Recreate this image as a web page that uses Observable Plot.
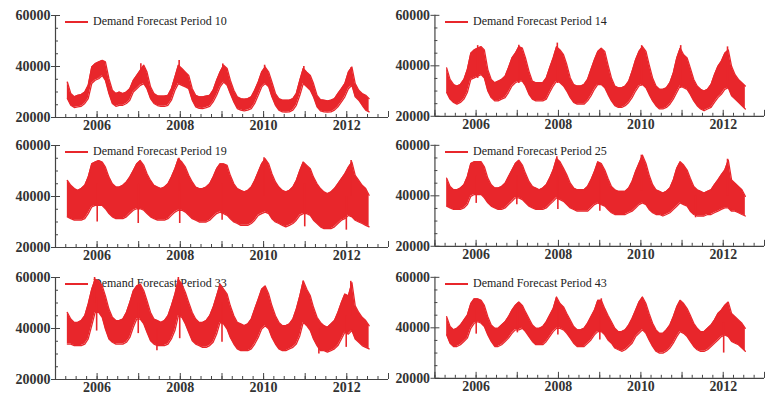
<!DOCTYPE html>
<html><head><meta charset="utf-8">
<script src="https://cdn.jsdelivr.net/npm/d3@7"></script>
<script src="https://cdn.jsdelivr.net/npm/@observablehq/plot@0.6"></script>
<style>
body{margin:0;background:#fff;}
#chart{position:relative;width:766px;height:401px;overflow:hidden;background:#fff;}
.panel{position:absolute;}
.panel svg{position:relative;z-index:1;}
.legend{position:absolute;z-index:0;left:65px;top:14px;line-height:16px;display:flex;align-items:center;font:12px "Liberation Serif",serif;color:#222;white-space:nowrap;}
.legend .sw{display:inline-block;width:23px;height:2px;background:#e8262b;margin-right:5px;}
</style></head><body><div id="chart"></div>
<script>
// Monthly categories: April 2005 .. July 2012 (mid-month)
const months = d3.utcMonth.range(new Date(Date.UTC(2005,3,1)), new Date(Date.UTC(2012,7,1))).map(d => d3.utcDay.offset(d, 14));
const xDomain = [new Date(Date.UTC(2005,0,1)), new Date(Date.UTC(2013,0,1))];
const yDomain = [20000, 60000];
const yMajor = [20000, 40000, 60000];
const yMinor = [25000, 30000, 35000, 45000, 50000, 55000];
const xLabelYears = [2006, 2008, 2010, 2012];
const titles = ["Demand Forecast Period 10","Demand Forecast Period 14","Demand Forecast Period 19","Demand Forecast Period 25","Demand Forecast Period 33","Demand Forecast Period 43"];

// Monthly high / low envelopes
const p10High = [33900,29400,28100,28700,29000,30000,32600,39800,41100,
 41800,42400,41800,35200,30700,29400,30000,29400,30000,31300,34600,36500,
 38500,40500,37800,32000,29400,28500,28400,28400,28700,31300,35900,40500,
 39200,37800,36500,31300,28700,28100,28100,28400,28700,30700,34600,37800,
 40500,39200,34600,30700,28100,27400,27200,27400,28100,30700,33900,37800,
 39800,37800,33900,29400,27400,26800,26800,26800,27400,29400,34600,39200,
 37800,36500,33300,28700,27000,26800,26500,26800,27400,29400,31300,33300,
 37800,39800,33300,30700,29400,28700,27400];
const p10Low = [27500,24800,23900,24200,24400,25500,27400,33300,34600,
 35200,36500,34600,29400,25500,24400,24800,24800,25500,26800,30000,31300,
 32600,33300,31300,27400,25500,24700,24400,24400,24800,26800,30700,33300,
 32600,32000,31300,26800,24200,23600,23500,23900,24400,26100,28700,32000,
 33900,32600,29400,26100,23500,22900,22600,22900,23500,25500,28700,32000,
 33300,32000,28100,24800,22900,22200,22100,22200,22900,24800,28700,33300,
 32000,30700,28100,24200,22600,22200,22100,22200,22900,24200,26100,28100,
 31300,32600,28100,26800,24800,22900,22200];
const p10Spikes = [["2007-01-20",33000,41100],["2007-12-22",33500,42400],["2009-01-08",34000,41000],["2010-01-10",33500,40500],["2010-12-20",33000,40000],["2012-02-08",32000,39500]];

const p14High = [39200,34600,32600,32000,32600,34600,38500,45000,46300,
 47000,47600,46300,38500,34600,33300,33900,34600,35900,39200,43100,45000,
 47600,47000,43100,37800,33900,33300,33300,33300,35200,39200,43100,47600,
 46300,44400,40500,35200,32600,32000,32000,32600,34600,38500,42400,45700,
 47000,45700,40500,35200,32000,31300,31300,32000,33900,37800,42400,45700,
 47600,45700,40500,35200,32000,30700,30700,31300,33300,37200,43100,47000,
 44400,43100,39200,34600,32000,30700,30000,30700,32600,36500,39800,41800,
 45000,46300,39800,36500,34600,33300,32000];
const p14Low = [29400,26800,25500,24800,25500,26800,29400,34600,35200,
 35900,36500,35200,30000,27400,26100,26100,26800,27400,29400,32000,33300,
 33900,33900,32000,28700,26800,26100,26100,26100,26800,29400,32000,33900,
 33300,32000,30000,27400,25500,24800,24800,24800,26100,28100,30700,32600,
 32600,31300,28700,26100,24200,23500,23500,24200,25500,27400,30000,32000,
 32600,31300,28700,26100,24200,22900,22900,23500,24800,26800,29400,32000,
 31300,30700,28700,26100,24200,22900,22200,22900,23500,25500,27400,28700,
 30700,31300,28100,26800,25500,24200,22900];
const p14Spikes = [["2006-01-15",35000,48000],["2007-01-15",33000,48200],["2007-12-22",33000,49000],["2010-01-08",32000,48000],["2010-12-20",31000,48000],["2012-02-08",31000,47500]];

const p19High = [46300,44400,43100,42400,43100,44400,47600,52800,53500,
 54100,53500,51500,47600,45000,43700,43700,44400,45700,47600,50200,52800,
 54100,52200,48900,46300,44400,43700,43100,43700,45000,47600,50900,54800,
 53500,51500,48300,45700,43700,43100,43100,43700,45000,47600,50900,52800,
 52800,52200,48300,45000,43100,42400,41800,42400,43700,46300,49600,52800,
 54800,52800,48900,45700,43700,42400,41800,42400,43700,46300,50200,53500,
 52200,50900,47600,45000,43100,41800,41100,41800,43100,45000,47000,48900,
 51500,53500,48300,46300,44400,43100,40500];
const p19Low = [32000,31300,30700,30700,30700,31300,33300,35900,36500,
 36500,36500,35200,33300,32000,31300,31300,31300,32000,33300,34600,35200,
 35200,34600,33300,32000,31300,30700,30700,30700,31300,32600,33900,34600,
 34600,33900,32600,31300,30700,30000,30000,30000,30700,32000,33300,33900,
 33300,32600,31300,30000,29400,28700,28700,28700,29400,30700,32600,33300,
 33900,33300,31300,30000,29400,28700,28100,28700,29400,30700,32600,33300,
 33300,32600,30700,29400,28100,27400,27400,27400,28100,29400,30700,31300,
 32600,32000,30700,30000,29400,28700,28100];
const p19Spikes = [["2006-01-02",30000,45000],["2006-12-28",29400,45000],["2007-12-27",29400,45000],["2009-01-02",30700,45000],["2010-12-28",28100,45000],["2011-12-28",26800,40000],["2010-01-05",40000,55200],["2012-02-08",40000,54100],["2007-12-20",42000,55000]];

const p25High = [47000,43700,42400,42400,43100,44400,47600,52800,53500,
 53500,53500,51500,47000,44400,43100,43100,43700,45000,47600,50200,52800,
 54100,52200,48900,45700,43700,43100,42400,43100,44400,47000,50200,54800,
 53500,50900,48300,45000,43100,42400,42400,42400,43700,46300,49600,53500,
 52800,50200,47000,43700,42400,41800,41800,41800,43100,45700,49600,52800,
 56100,52800,48300,44400,42400,41800,41100,41800,43100,46300,50900,53500,
 52200,50200,47000,43700,42400,41800,41100,41800,42400,44400,46300,48300,
 50200,54100,46300,45000,43700,42400,39800];
const p25Low = [35900,35200,34600,34600,34600,35200,36500,39800,40500,
 40500,40500,39200,37200,35900,35200,34600,34600,35200,36500,37800,39200,
 39200,38500,37200,35900,35200,34600,34600,34600,35200,36500,37800,39200,
 38500,37800,36500,35200,34600,33900,33900,33900,33900,35200,36500,37200,
 36500,35900,34600,33300,32600,32600,32600,32600,33300,33900,35200,36500,
 37200,36500,34600,33300,32600,32600,32000,32600,33300,34600,35900,37200,
 36500,35900,33900,32600,32000,32000,32000,32600,32600,33300,33900,34600,
 35200,35200,33900,33900,33300,32600,32000];
const p25Spikes = [["2006-01-02",37000,48000],["2006-12-28",36500,48000],["2007-12-27",34600,48000],["2009-01-02",33900,48000],["2011-05-01",31300,40000],["2007-12-18",42000,55500],["2012-02-08",40000,54500],["2010-01-05",42000,56100]];

const p33High = [46300,43700,42400,42400,43100,45000,49600,55400,59300,
 58700,56700,52800,47600,44400,43100,43100,43700,46300,50200,54800,56700,
 57400,54800,50900,46300,43700,43100,42400,43100,45000,48900,53500,59300,
 57400,54100,50200,46300,43700,42400,42400,43100,45000,48300,52800,57400,
 55400,53500,48900,45000,42400,41800,41100,41800,43700,47600,51500,55400,
 56700,53500,48900,45000,42400,41100,41100,41800,43700,47600,52800,58700,
 55400,52800,48300,44400,42400,41100,40500,41800,43100,46300,50200,53500,
 52800,58000,48900,46300,44400,43100,41100];
const p33Low = [33900,33900,33300,33300,33300,33900,35900,41100,46300,
 46300,44400,39800,35900,34600,33900,33900,33900,34600,36500,40500,43700,
 43700,41800,38500,35200,33900,33300,33300,33300,33900,35900,39200,45000,
 44400,41800,38500,35200,33900,33300,32600,32600,33300,34600,37800,42400,
 41800,39800,36500,33900,32000,31300,31300,31300,32000,33900,36500,39800,
 41100,39800,36500,33900,32000,31300,31300,32000,32600,33900,37200,42400,
 41100,39200,35900,33300,31300,31300,30700,31300,32000,33300,35900,38500,
 37800,39200,35900,34600,33300,32600,32000];
const p33Spikes = [["2005-12-28",39000,52000],["2006-12-28",38000,50000],["2007-06-10",31300,40000],["2007-12-27",36000,50000],["2009-01-01",34600,50000],["2011-05-01",30000,40000],["2011-12-27",32600,45000],["2012-02-05",45000,58500],["2005-12-10",50000,60000],["2007-12-15",50000,60000]];

const p43High = [44400,40500,39200,39800,41100,43100,45000,49600,51500,
 51500,50900,48900,44400,41100,39800,39800,41100,42400,44400,47000,48900,
 50200,48900,46300,43700,41100,39800,39800,40500,42400,45000,47600,52200,
 49600,48300,45700,43100,40500,39200,39200,39800,41800,44400,47000,50900,
 50900,47600,45000,42400,39800,38500,38500,39200,41100,43700,47000,50200,
 52200,49600,45700,41800,39200,37800,37800,39200,41100,44400,48300,50900,
 49600,47600,45000,41800,39800,38500,38500,39800,41100,43100,45700,47000,
 48900,50200,45700,44400,43100,41800,39800];
const p43Low = [37200,33900,32600,32600,33300,34600,35900,39800,41800,
 42400,41800,40500,37200,34600,32600,32600,33300,34600,35900,37800,39200,
 39200,39800,38500,36500,34600,33300,33300,33300,34600,36500,38500,39800,
 39800,39200,37800,35900,33900,32600,32600,32600,33900,35200,37200,38500,
 38500,37200,35200,33900,32000,31300,30700,31300,32600,33900,36500,37800,
 39200,37800,35200,32600,30700,30000,30000,30700,32000,33900,36500,38500,
 37800,36500,34600,32600,31300,30700,30700,31300,32600,33900,35200,36500,
 37200,36500,34600,33900,33300,32000,30700];
const p43Spikes = [["2006-01-02",37500,48000],["2007-01-02",38000,48000],["2007-12-27",37200,48000],["2009-01-02",35200,48000],["2012-01-05",30000,42000],["2009-01-15",44000,51500]];

const RED = "#e8262b";
const AXIS = "#444";
const quarters = d3.utcMonth.every(3).range(xDomain[0], d3.utcDay.offset(xDomain[1], 1));
const yearTicks = d3.utcYear.range(xDomain[0], d3.utcDay.offset(xDomain[1], 1));
const labelDates = xLabelYears.map(y => new Date(Date.UTC(y, 0, 1)));

function panel(title, high, low, spikes, left, top) {
  const rows = months.map((d, i) => ({date: d, high: high[i], low: low[i]}));
  const sp = spikes.map(([d, a, b]) => ({date: new Date(d), from: a, to: b}));
  const plot = Plot.plot({
    width: 390, height: 135,
    marginLeft: 55, marginRight: 2, marginTop: 15, marginBottom: 18,
    style: {background: "transparent", color: "#333", fontFamily: "'Liberation Serif', serif"},
    x: {type: "utc", domain: xDomain, axis: null},
    y: {domain: yDomain, axis: null},
    marks: [
      Plot.areaY(rows, {x: "date", y1: "low", y2: "high", fill: RED}),
      Plot.lineY(rows, {x: "date", y: "high", stroke: RED, strokeWidth: 1.3}),
      Plot.lineY(rows, {x: "date", y: "low", stroke: RED, strokeWidth: 1.3}),
      Plot.ruleX(sp, {x: "date", y1: "from", y2: "to", stroke: RED, strokeWidth: 1.6}),
      Plot.ruleY([yDomain[0]], {stroke: AXIS, strokeWidth: 1.2}),
      Plot.ruleX([xDomain[0]], {stroke: AXIS, strokeWidth: 1.2}),
      Plot.tickX(quarters, {x: d => d, insetTop: 99, stroke: AXIS}),
      Plot.tickX(yearTicks, {x: d => d, insetTop: 96, stroke: AXIS}),
      Plot.tickY(yMinor, {y: d => d, insetRight: 330, stroke: AXIS}),
      Plot.tickY(yMajor, {y: d => d, insetRight: 328, stroke: AXIS}),
      Plot.axisY({ticks: yMajor, tickSize: 4, tickPadding: 1, tickFormat: d => d3.format("d")(d), fontSize: 14, fontWeight: "bold", stroke: AXIS}),
      Plot.axisX({ticks: labelDates, tickSize: 0, tickPadding: 3, tickFormat: d => d3.utcFormat("%Y")(d), fontSize: 14, fontWeight: "bold"})
    ]
  });
  const wrap = document.createElement("div");
  wrap.className = "panel";
  wrap.style.left = left + "px";
  wrap.style.top = top + "px";
  const lg = document.createElement("div");
  lg.className = "legend";
  lg.innerHTML = '<span class="sw"></span><span></span>';
  lg.lastChild.textContent = title;
  wrap.appendChild(lg);
  wrap.appendChild(plot);
  document.getElementById("chart").appendChild(wrap);
}

panel(titles[0], p10High, p10Low, p10Spikes, 0, 0);
panel(titles[1], p14High, p14Low, p14Spikes, 380, 0);
panel(titles[2], p19High, p19Low, p19Spikes, 0, 130);
panel(titles[3], p25High, p25Low, p25Spikes, 380, 130);
panel(titles[4], p33High, p33Low, p33Spikes, 0, 262);
panel(titles[5], p43High, p43Low, p43Spikes, 380, 262);
</script></body></html>
